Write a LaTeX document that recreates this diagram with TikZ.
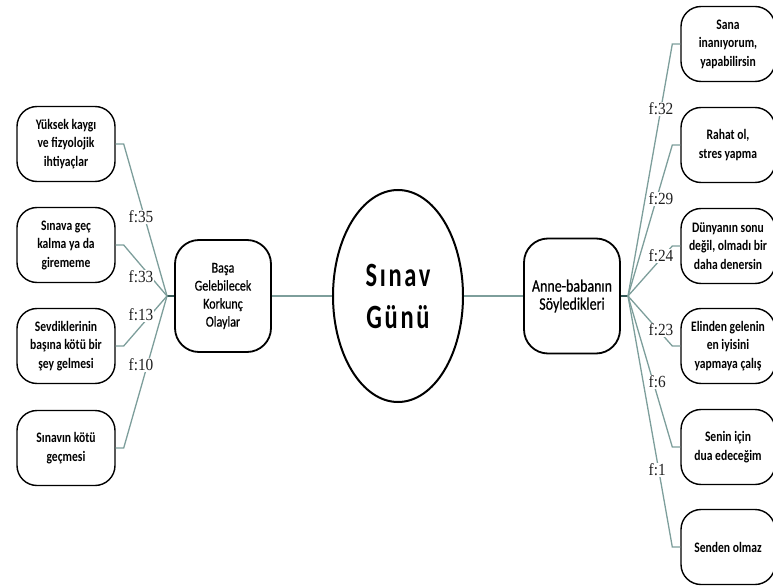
\documentclass[tikz,border=0pt]{standalone}
\usepackage{fontspec}
\setmainfont{Carlito}
\newfontfamily\leaffont[FakeStretch=0.8]{Carlito}
\newfontfamily\hubfont[FakeStretch=0.8,FakeBold=0.6]{Carlito}
\newfontfamily\corefont[FakeStretch=0.72,LetterSpace=8]{Carlito}
\newfontfamily\numfont[FakeStretch=0.9]{Liberation Serif}
\usepackage{tikz}
\usetikzlibrary{shapes.geometric}
\usepackage{xcolor}
\definecolor{linkcol}{RGB}{125, 158, 155}
\definecolor{stemcol}{RGB}{55, 90, 88}
\definecolor{numcol}{RGB}{30, 30, 30}

\begin{document}
\begin{tikzpicture}[x=1pt, y=-1pt,
  leaf/.style={draw, line width=1.4pt, rounded corners=20pt, fill=white,
    minimum width=98pt, minimum height=75pt, inner sep=0pt, align=center,
    font=\leaffont\bfseries\fontsize{14.5}{18.5}\selectfont},
  hubbox/.style={draw, line width=1.8pt, rounded corners=24pt, fill=white,
    minimum width=96pt, minimum height=112pt, inner sep=0pt, align=center},
  link/.style={draw=linkcol, line width=1.3pt},
  stem/.style={draw=stemcol, line width=1.8pt},
  flabel/.style={fill=white, inner sep=0.5pt, anchor=west, text=numcol,
    font=\numfont\fontsize{17}{18}\selectfont}]
  \useasboundingbox (0,0) rectangle (773,588);
  % Centre
  \node[ellipse, draw, line width=2pt, minimum width=130pt, minimum height=212pt,
    inner sep=0pt, align=center, font=\corefont\bfseries\fontsize{34}{42}\selectfont]
    (exam) at (398,296) {Sınav\\Günü};
  \node[hubbox, font=\hubfont\fontsize{15}{18}\selectfont]
    (danger) at (223,296) {Başa\\Gelebilecek\\Korkunç\\Olaylar};
  \node[hubbox, minimum height=115pt, font=\hubfont\fontsize{17.5}{18}\selectfont]
    (parents) at (572,296) {Anne-babanın\\Söyledikleri};
  \coordinate (lhub) at (167,296);
  \coordinate (rhub) at (628,296);
  \draw[link, line width=1.6pt] (danger) -- (exam);
  \draw[link, line width=1.6pt] (exam) -- (parents);
  \draw[stem] (lhub) -- (danger);
  \draw[stem] (parents) -- (rhub);
  % Left branch
  \foreach \y/\i/\txt in {144/1/{Yüksek kaygı\\ve fizyolojik\\ihtiyaçlar},
      245/2/{Sınava geç\\kalma ya da\\girememe},
      346/3/{Sevdiklerinin\\başına kötü bir\\şey gelmesi},
      448/4/{Sınavın kötü\\geçmesi}}
  {
    \node[leaf] (L\i) at (66,\y) {\txt};
    \draw[link] (L\i.east) -- ++(8,0) -- (lhub);
  }
  \foreach \y/\i/\f in {217/1/35, 277/2/33, 315/3/13, 365/4/10}
    \node[flabel] (fL\i) at (128,\y) {f:\f};
  % Right branch
  \foreach \y/\i/\txt in {44/1/{Sana\\inanıyorum,\\yapabilirsin},
      145/2/{Rahat ol,\\stres yapma},
      246/3/{Dünyanın sonu\\değil, olmadı bir\\daha denersin},
      346/4/{Elinden gelenin\\en iyisini\\yapmaya çalış},
      447/5/{Senin için\\dua edeceğim},
      547/6/{Senden olmaz}}
  {
    \node[leaf, minimum width=94pt] (R\i) at (728,\y) {\txt};
    \draw[link] (R\i.west) -- ++(-8,0) -- (rhub);
  }
  \foreach \y/\i/\f in {109/1/32, 199/2/29, 256/3/24, 330/4/23, 382/5/6, 470/6/1}
    \node[flabel] (fR\i) at (648,\y) {f:\f};
\end{tikzpicture}
\end{document}
